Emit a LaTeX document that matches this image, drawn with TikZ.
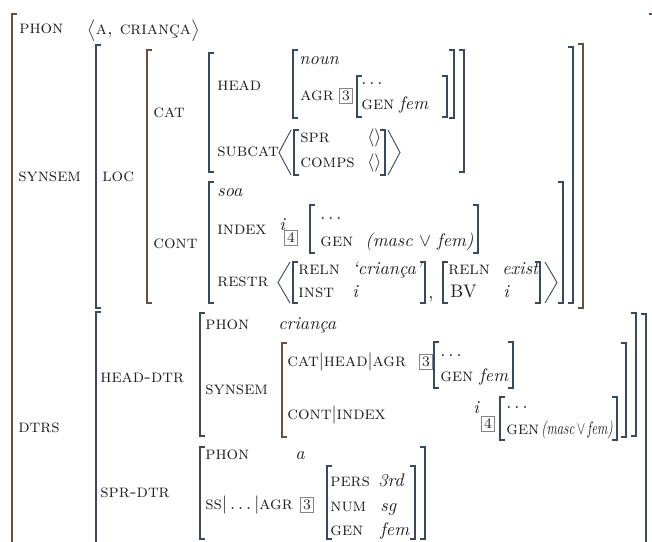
\documentclass[tikz,border=0pt]{standalone}
\usepackage{amsmath}
\usepackage{amssymb}

\definecolor{ink}{RGB}{32,32,32}
\definecolor{brkwarm}{RGB}{105,80,62}
\definecolor{brkcool}{RGB}{58,74,92}

% square brackets and angle brackets of the AVM, x then top and bottom
\newcommand{\lbrak}[4][brkcool]{\draw[brk,draw=#1] (#2+5,#3) -- (#2,#3) -- (#2,#4) -- (#2+5,#4);}
\newcommand{\rbrak}[4][brkcool]{\draw[brk,draw=#1] (#2-5,#3) -- (#2,#3) -- (#2,#4) -- (#2-5,#4);}
\newcommand{\langl}[3]{\draw[brk,line width=0.5pt] (#1+12,#2) -- (#1,{(#2+#3)/2}) -- (#1+12,#3);}
\newcommand{\rangl}[3]{\draw[brk,line width=0.5pt] (#1,#2) -- (#1+12,{(#2+#3)/2}) -- (#1,#3);}

\begin{document}
\begin{tikzpicture}[x=0.55pt, y=-0.55pt,
  every node/.style={anchor=base west, inner sep=0pt, text=ink},
  lbl/.style={font=\scshape},
  val/.style={font=\itshape},
  tag/.style={anchor=center, draw=ink!55, inner sep=1.3pt, font=\footnotesize},
  brk/.style={line width=0.7pt, draw=brkcool}
]
\useasboundingbox (0,0) rectangle (652,541);
\clip (0,0) rectangle (652,541);

% top level
\lbrak[brkwarm]{12}{14}{560}
\rbrak[brkwarm]{654}{14}{560}
\node[lbl] (phon) at (19,34) {phon};
\node (phonval) at (87,35) {$\bigl\langle$\textsc{a, criança}$\bigr\rangle$};

% SYNSEM
\node[lbl] (synsem) at (18,181) {synsem};
\lbrak{96}{45}{308}
\rbrak[brkwarm]{583}{44}{308}
\node[lbl] (loc) at (102,181) {loc};
\lbrak[brkwarm]{147}{50}{303}
\rbrak{573}{47}{303}

% CAT
\node[lbl] (cat) at (153,117) {cat};
\lbrak{209}{53}{172}
\rbrak{464}{50}{172}
\node[lbl] (head) at (217,90) {head};
\lbrak{293}{50}{118}
\rbrak{454}{50}{118}
\node[val] (noun) at (299,64) {noun};
\node[lbl] (agr) at (300,100) {agr};
\node[tag] (tagthree) at (346,96) {3};
\lbrak{357}{76}{117}
\rbrak{447}{76}{117}
\node (agrdots) at (361,84) {$\ldots$};
\node[lbl] (agrgen) at (361,109) {gen};
\node[val] (agrfem) at (399,109) {fem};
\node[lbl] (subcat) at (217,156) {subcat};
\langl{279}{130}{175}
\lbrak{294}{130}{175}
\node[lbl] (spr) at (300,142) {spr};
\node[lbl] (comps) at (300,167) {comps};
\node (sprval) at (367,142) {$\langle\rangle$};
\node (compsval) at (367,167) {$\langle\rangle$};
\rbrak{385}{130}{175}
\rangl{388}{130}{175}

% CONT
\node[lbl] (cont) at (153,248) {cont};
\lbrak{209}{182}{303}
\rbrak{563}{182}{303}
\node[val] (soa) at (217,196) {soa};
\node[lbl] (index) at (217,234) {index};
\node[val] (indexi) at (279,230) {i};
\node[tag] (tagfour) at (291,238) {4};
\lbrak{310}{205}{253}
\rbrak{478}{205}{253}
\node (indexdots) at (320,219) {$\ldots$};
\node[lbl] (indexgen) at (320,246) {gen};
\node (indexmf) at (365,246) {\textit{(masc} $\vee$ \textit{fem)}};
\node[lbl] (restr) at (217,286) {restr};
\langl{278}{262}{303}
\lbrak{293}{262}{303}
\node[lbl] (relnone) at (298,274) {reln};
\node[lbl] (inst) at (298,297) {inst};
\node[val] (crianca) at (352,274) {‘criança’};
\node[val] (insti) at (352,297) {i};
\rbrak{425}{262}{303}
\node (comma) at (428,298) {,};
\lbrak{443}{262}{303}
\node[lbl] (relntwo) at (448,274) {reln};
\node[val] (exist) at (502,274) {exist};
\node (bv) at (450,297) {BV};
\node[val] (bvi) at (503,297) {i};
\rbrak{540}{262}{303}
\rangl{545}{262}{303}

% DTRS
\node[lbl] (dtrs) at (18,432) {dtrs};
\lbrak{96}{312}{560}
\rbrak{646}{314}{560}
\node[lbl] (headdtr) at (100,382) {head-dtr};
\lbrak{200}{313}{436}
\rbrak{636}{313}{436}
\node[lbl] (hdphon) at (205,329) {phon};
\node[val] (hdphonval) at (278,329) {criança};
\node[lbl] (hdsynsem) at (205,394) {synsem};
\lbrak[brkwarm]{282}{343}{437}
\rbrak{626}{343}{437}
\node[lbl] (hdagr) at (287,366) {cat$|$head$|$agr};
\node[tag] (hdtagthree) at (426,362) {3};
\lbrak{434}{342}{388}
\rbrak{513}{342}{388}
\node (hdagrdots) at (440,356) {$\ldots$};
\node[lbl] (hdagrgen) at (440,381) {gen};
\node[val] (hdagrfem) at (479,381) {fem};
\node[lbl] (hdindex) at (287,419) {cont$|$index};
\node[val] (hdindexi) at (473,413) {i};
\node[tag] (hdtagfour) at (488,424) {4};
\lbrak{500}{397}{440}
\rbrak{617}{397}{440}
\node (hdindexdots) at (506,408) {$\ldots$};
\node[lbl] (hdindexgen) at (506,434) {gen};
\node (hdindexmf) at (541,434) {\scalebox{0.7}[1]{\textit{(masc}$\,\vee\,$\textit{fem)}}};
\node[lbl] (sprdtr) at (100,497) {spr-dtr};
\lbrak{200}{447}{539}
\rbrak{425}{447}{539}
\node[lbl] (spphon) at (205,459) {phon};
\node[val] (spphonval) at (295,459) {a};
\node[lbl] (spagr) at (205,509) {ss$|\ldots|$agr};
\node[tag] (sptagthree) at (307,505) {3};
\lbrak{327}{466}{539}
\rbrak{415}{466}{539}
\node[lbl] (pers) at (330,486) {pers};
\node[val] (persval) at (378,486) {3rd};
\node[lbl] (num) at (330,511) {num};
\node[val] (numval) at (380,511) {sg};
\node[lbl] (spgen) at (330,535) {gen};
\node[val] (spfem) at (380,535) {fem};
\end{tikzpicture}
\end{document}
